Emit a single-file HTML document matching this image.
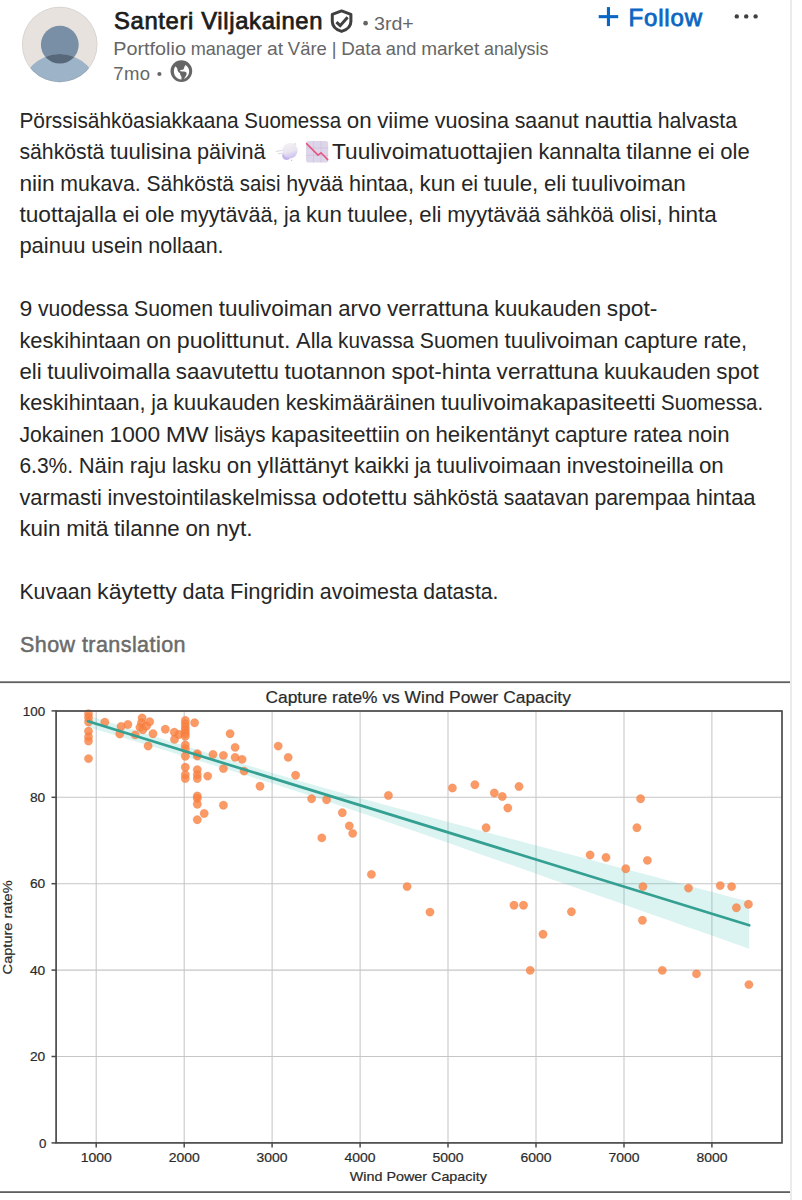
<!DOCTYPE html>
<html><head><meta charset="utf-8"><style>
html,body{margin:0;padding:0;background:#fff;}
body{width:802px;height:1200px;overflow:hidden;position:relative;font-family:"Liberation Sans",sans-serif;}
.vl{position:absolute;left:790px;top:0;width:2px;height:1200px;background:#ebebeb;}
</style></head><body>
<div class="vl"></div>
<svg width="802" height="680" viewBox="0 0 802 680" style="position:absolute;left:0;top:0" font-family="Liberation Sans, sans-serif">
<defs>
<clipPath id="avc"><circle cx="59.7" cy="44.5" r="37.7"/></clipPath>
<clipPath id="bodyc"><circle cx="59.7" cy="92.6" r="38.6"/></clipPath>
<linearGradient id="cloudg" x1="0.2" y1="0" x2="0.5" y2="1"><stop offset="0" stop-color="#f4f2f5"/><stop offset="0.6" stop-color="#e9e4ef"/><stop offset="1" stop-color="#cdbff0"/></linearGradient>
</defs>
<circle cx="59.7" cy="44.5" r="37.7" fill="#e7e2dd"/>
<g clip-path="url(#avc)">
<circle cx="59.8" cy="44.7" r="18.9" fill="#788fa5"/>
<circle cx="59.7" cy="92.6" r="38.6" fill="#9db3c8"/>
<circle cx="59.8" cy="44.7" r="18.9" fill="#56687a" clip-path="url(#bodyc)"/>
</g>
<circle cx="59.7" cy="44.5" r="37.4" fill="none" stroke="#000" stroke-opacity="0.07" stroke-width="1"/>
<text x="114" y="28.9" font-size="23.8" fill="#1c1c1c" stroke="#1c1c1c" stroke-width="0.75" textLength="208.5" lengthAdjust="spacing">Santeri Viljakainen</text>
<path d="M341.6,10.9 L332.3,14.3 L332.3,21.6 C332.3,26.4 336.3,29.9 341.6,31.4 C346.9,29.9 350.9,26.4 350.9,21.6 L350.9,14.3 Z" fill="none" stroke="#404040" stroke-width="3" stroke-linejoin="round"/>
<path d="M336.4,22.1 L340.2,25.7 L347.6,17.3" fill="none" stroke="#404040" stroke-width="3"/>
<circle cx="365.6" cy="23.2" r="2.35" fill="#666"/>
<text x="374" y="29.6" font-size="19" fill="#666" textLength="39.8" lengthAdjust="spacingAndGlyphs">3rd+</text>
<!--SUB-->
<text x="113.3" y="79.9" font-size="18.5" fill="#666" textLength="36.8" lengthAdjust="spacing">7mo</text>
<circle cx="159.4" cy="74" r="2.1" fill="#666"/>
<g transform="translate(166,56) scale(0.0399)">
<circle cx="385" cy="378" r="272" fill="#666"/>
<path d="M232,262 C195,310 185,420 225,492 C262,550 325,582 388,588 L388,522 C372,502 358,482 356,458 C354,432 344,418 318,405 C294,392 288,362 284,322 C276,292 258,272 232,262 Z" fill="#fff"/>
<path d="M492,226 C545,262 580,322 582,382 C584,462 534,540 452,575 C468,532 498,502 514,462 C524,432 510,402 484,392 L442,387 C420,384 372,387 358,384 L358,352 C390,348 430,350 444,334 C450,300 460,258 492,226 Z" fill="#fff"/>
</g>
<g fill="#0a66c2">
<rect x="598.7" y="15.1" width="19.5" height="3.1"/>
<rect x="606.9" y="7.1" width="3.1" height="19"/>
</g>
<text x="628.5" y="25.6" font-size="24" fill="#0a66c2" stroke="#0a66c2" stroke-width="0.8" textLength="73.5" lengthAdjust="spacing">Follow</text>
<g fill="#404040"><circle cx="736.8" cy="16.4" r="2.2"/><circle cx="746.2" cy="16.4" r="2.2"/><circle cx="755.6" cy="16.4" r="2.2"/></g>

<g font-size="18.2" fill="#666"><text x="113.30" y="54.90" textLength="72.60" lengthAdjust="spacingAndGlyphs">Portfolio</text><text x="190.72" y="54.90" textLength="71.39" lengthAdjust="spacingAndGlyphs">manager</text><text x="266.94" y="54.90" textLength="16.13" lengthAdjust="spacingAndGlyphs">at</text><text x="287.89" y="54.90" textLength="38.95" lengthAdjust="spacingAndGlyphs">Väre</text><text x="331.67" y="54.90" textLength="4.72" lengthAdjust="spacingAndGlyphs">|</text><text x="341.22" y="54.90" textLength="39.84" lengthAdjust="spacingAndGlyphs">Data</text><text x="385.89" y="54.90" textLength="30.45" lengthAdjust="spacingAndGlyphs">and</text><text x="421.16" y="54.90" textLength="58.03" lengthAdjust="spacingAndGlyphs">market</text><text x="484.02" y="54.90" textLength="64.28" lengthAdjust="spacingAndGlyphs">analysis</text></g>
<g font-size="22" fill="#262626">
<text x="19.40" y="127.75" textLength="219.31" lengthAdjust="spacingAndGlyphs">Pörssisähköasiakkaana</text><text x="244.36" y="127.75" textLength="96.72" lengthAdjust="spacingAndGlyphs">Suomessa</text><text x="346.73" y="127.75" textLength="24.84" lengthAdjust="spacingAndGlyphs">on</text><text x="377.22" y="127.75" textLength="51.81" lengthAdjust="spacingAndGlyphs">viime</text><text x="434.69" y="127.75" textLength="74.38" lengthAdjust="spacingAndGlyphs">vuosina</text><text x="514.71" y="127.75" textLength="64.05" lengthAdjust="spacingAndGlyphs">saanut</text><text x="584.42" y="127.75" textLength="67.71" lengthAdjust="spacingAndGlyphs">nauttia</text><text x="657.78" y="127.75" textLength="79.32" lengthAdjust="spacingAndGlyphs">halvasta</text>
<text x="19.40" y="159.15" textLength="85.01" lengthAdjust="spacingAndGlyphs">sähköstä</text><text x="110.06" y="159.15" textLength="81.17" lengthAdjust="spacingAndGlyphs">tuulisina</text><text x="196.89" y="159.15" textLength="68.61" lengthAdjust="spacingAndGlyphs">päivinä</text>
<text x="332.00" y="159.15" textLength="200.88" lengthAdjust="spacingAndGlyphs">Tuulivoimatuottajien</text><text x="538.54" y="159.15" textLength="82.00" lengthAdjust="spacingAndGlyphs">kannalta</text><text x="626.20" y="159.15" textLength="65.78" lengthAdjust="spacingAndGlyphs">tilanne</text><text x="697.64" y="159.15" textLength="16.98" lengthAdjust="spacingAndGlyphs">ei</text><text x="720.28" y="159.15" textLength="29.42" lengthAdjust="spacingAndGlyphs">ole</text>
</g><g>
<path d="M276.5,151.3 L283.5,150.2 M278.5,153.6 L284.5,153" stroke="#e2dce9" stroke-width="1.2" stroke-linecap="round"/>
<circle cx="286.6" cy="155.6" r="4.4" fill="#c4b4ee"/>
<circle cx="290" cy="150.6" r="7.7" fill="url(#cloudg)"/>
<circle cx="294.8" cy="144.2" r="1.5" fill="#e9e6ec"/>
<circle cx="291.6" cy="160.2" r="0.7" fill="#c8b8f0"/>
</g>
<g>
<rect x="306" y="140.9" width="22.2" height="21.6" rx="2.6" fill="#ddd5e9"/>
<path d="M313.5,141 V162.5 M321,141 V162.5 M306,148 H328.2 M306,155.4 H328.2" stroke="#cbc0dc" stroke-width="0.6"/>
<path d="M306.6,143.6 L318,155.1 L321,152.8 L327.7,159.6" fill="none" stroke="#e8507e" stroke-width="1.5" stroke-linecap="round" stroke-linejoin="round"/>
</g><g font-size="22" fill="#262626">
<text x="19.40" y="190.55" textLength="35.31" lengthAdjust="spacingAndGlyphs">niin</text><text x="60.37" y="190.55" textLength="80.39" lengthAdjust="spacingAndGlyphs">mukava.</text><text x="146.43" y="190.55" textLength="87.63" lengthAdjust="spacingAndGlyphs">Sähköstä</text><text x="239.72" y="190.55" textLength="40.77" lengthAdjust="spacingAndGlyphs">saisi</text><text x="286.15" y="190.55" textLength="57.15" lengthAdjust="spacingAndGlyphs">hyvää</text><text x="348.97" y="190.55" textLength="64.94" lengthAdjust="spacingAndGlyphs">hintaa,</text><text x="419.58" y="190.55" textLength="35.92" lengthAdjust="spacingAndGlyphs">kun</text><text x="461.16" y="190.55" textLength="16.99" lengthAdjust="spacingAndGlyphs">ei</text><text x="483.81" y="190.55" textLength="54.52" lengthAdjust="spacingAndGlyphs">tuule,</text><text x="543.99" y="190.55" textLength="22.21" lengthAdjust="spacingAndGlyphs">eli</text><text x="571.87" y="190.55" textLength="113.93" lengthAdjust="spacingAndGlyphs">tuulivoiman</text>
<text x="19.40" y="221.95" textLength="97.33" lengthAdjust="spacingAndGlyphs">tuottajalla</text><text x="122.39" y="221.95" textLength="16.98" lengthAdjust="spacingAndGlyphs">ei</text><text x="145.02" y="221.95" textLength="29.42" lengthAdjust="spacingAndGlyphs">ole</text><text x="180.10" y="221.95" textLength="98.28" lengthAdjust="spacingAndGlyphs">myytävää,</text><text x="284.04" y="221.95" textLength="16.29" lengthAdjust="spacingAndGlyphs">ja</text><text x="305.99" y="221.95" textLength="35.89" lengthAdjust="spacingAndGlyphs">kun</text><text x="347.53" y="221.95" textLength="66.15" lengthAdjust="spacingAndGlyphs">tuulee,</text><text x="419.34" y="221.95" textLength="22.19" lengthAdjust="spacingAndGlyphs">eli</text><text x="447.19" y="221.95" textLength="93.26" lengthAdjust="spacingAndGlyphs">myytävää</text><text x="546.11" y="221.95" textLength="67.64" lengthAdjust="spacingAndGlyphs">sähköä</text><text x="619.41" y="221.95" textLength="42.95" lengthAdjust="spacingAndGlyphs">olisi,</text><text x="668.02" y="221.95" textLength="48.88" lengthAdjust="spacingAndGlyphs">hinta</text>
<text x="19.40" y="253.35" textLength="66.05" lengthAdjust="spacingAndGlyphs">painuu</text><text x="91.14" y="253.35" textLength="51.51" lengthAdjust="spacingAndGlyphs">usein</text><text x="148.34" y="253.35" textLength="75.26" lengthAdjust="spacingAndGlyphs">nollaan.</text>
<text x="19.40" y="316.15" textLength="12.82" lengthAdjust="spacingAndGlyphs">9</text><text x="37.89" y="316.15" textLength="90.47" lengthAdjust="spacingAndGlyphs">vuodessa</text><text x="134.02" y="316.15" textLength="79.06" lengthAdjust="spacingAndGlyphs">Suomen</text><text x="218.74" y="316.15" textLength="113.88" lengthAdjust="spacingAndGlyphs">tuulivoiman</text><text x="338.27" y="316.15" textLength="42.99" lengthAdjust="spacingAndGlyphs">arvo</text><text x="386.92" y="316.15" textLength="101.68" lengthAdjust="spacingAndGlyphs">verrattuna</text><text x="494.26" y="316.15" textLength="106.83" lengthAdjust="spacingAndGlyphs">kuukauden</text><text x="606.75" y="316.15" textLength="50.65" lengthAdjust="spacingAndGlyphs">spot-</text>
<text x="19.40" y="347.55" textLength="121.17" lengthAdjust="spacingAndGlyphs">keskihintaan</text><text x="146.22" y="347.55" textLength="24.86" lengthAdjust="spacingAndGlyphs">on</text><text x="176.74" y="347.55" textLength="113.70" lengthAdjust="spacingAndGlyphs">puolittunut.</text><text x="296.10" y="347.55" textLength="36.37" lengthAdjust="spacingAndGlyphs">Alla</text><text x="338.12" y="347.55" textLength="76.05" lengthAdjust="spacingAndGlyphs">kuvassa</text><text x="419.83" y="347.55" textLength="79.01" lengthAdjust="spacingAndGlyphs">Suomen</text><text x="504.49" y="347.55" textLength="113.80" lengthAdjust="spacingAndGlyphs">tuulivoiman</text><text x="623.94" y="347.55" textLength="73.87" lengthAdjust="spacingAndGlyphs">capture</text><text x="703.47" y="347.55" textLength="43.63" lengthAdjust="spacingAndGlyphs">rate,</text>
<text x="19.40" y="378.95" textLength="22.19" lengthAdjust="spacingAndGlyphs">eli</text><text x="47.25" y="378.95" textLength="122.93" lengthAdjust="spacingAndGlyphs">tuulivoimalla</text><text x="175.84" y="378.95" textLength="103.04" lengthAdjust="spacingAndGlyphs">saavutettu</text><text x="284.54" y="378.95" textLength="101.23" lengthAdjust="spacingAndGlyphs">tuotannon</text><text x="391.43" y="378.95" textLength="99.52" lengthAdjust="spacingAndGlyphs">spot-hinta</text><text x="496.61" y="378.95" textLength="101.65" lengthAdjust="spacingAndGlyphs">verrattuna</text><text x="603.92" y="378.95" textLength="106.80" lengthAdjust="spacingAndGlyphs">kuukauden</text><text x="716.38" y="378.95" textLength="42.42" lengthAdjust="spacingAndGlyphs">spot</text>
<text x="19.40" y="410.35" textLength="126.20" lengthAdjust="spacingAndGlyphs">keskihintaan,</text><text x="151.25" y="410.35" textLength="16.29" lengthAdjust="spacingAndGlyphs">ja</text><text x="173.20" y="410.35" textLength="106.77" lengthAdjust="spacingAndGlyphs">kuukauden</text><text x="285.63" y="410.35" textLength="149.80" lengthAdjust="spacingAndGlyphs">keskimääräinen</text><text x="441.08" y="410.35" textLength="214.34" lengthAdjust="spacingAndGlyphs">tuulivoimakapasiteetti</text><text x="661.08" y="410.35" textLength="102.02" lengthAdjust="spacingAndGlyphs">Suomessa.</text>
<text x="19.40" y="441.75" textLength="84.57" lengthAdjust="spacingAndGlyphs">Jokainen</text><text x="109.56" y="441.75" textLength="50.59" lengthAdjust="spacingAndGlyphs">1000</text><text x="165.73" y="441.75" textLength="42.83" lengthAdjust="spacingAndGlyphs">MW</text><text x="214.14" y="441.75" textLength="51.34" lengthAdjust="spacingAndGlyphs">lisäys</text><text x="271.06" y="441.75" textLength="128.76" lengthAdjust="spacingAndGlyphs">kapasiteettiin</text><text x="405.41" y="441.75" textLength="24.53" lengthAdjust="spacingAndGlyphs">on</text><text x="435.52" y="441.75" textLength="113.55" lengthAdjust="spacingAndGlyphs">heikentänyt</text><text x="554.66" y="441.75" textLength="72.90" lengthAdjust="spacingAndGlyphs">capture</text><text x="633.14" y="441.75" textLength="48.94" lengthAdjust="spacingAndGlyphs">ratea</text><text x="687.67" y="441.75" textLength="41.93" lengthAdjust="spacingAndGlyphs">noin</text>
<text x="19.40" y="473.15" textLength="53.66" lengthAdjust="spacingAndGlyphs">6.3%.</text><text x="78.70" y="473.15" textLength="45.39" lengthAdjust="spacingAndGlyphs">Näin</text><text x="129.73" y="473.15" textLength="36.57" lengthAdjust="spacingAndGlyphs">raju</text><text x="171.94" y="473.15" textLength="49.20" lengthAdjust="spacingAndGlyphs">lasku</text><text x="226.79" y="473.15" textLength="24.80" lengthAdjust="spacingAndGlyphs">on</text><text x="257.24" y="473.15" textLength="91.07" lengthAdjust="spacingAndGlyphs">yllättänyt</text><text x="353.96" y="473.15" textLength="55.14" lengthAdjust="spacingAndGlyphs">kaikki</text><text x="414.74" y="473.15" textLength="16.25" lengthAdjust="spacingAndGlyphs">ja</text><text x="436.64" y="473.15" textLength="124.51" lengthAdjust="spacingAndGlyphs">tuulivoimaan</text><text x="566.79" y="473.15" textLength="126.46" lengthAdjust="spacingAndGlyphs">investoineilla</text><text x="698.90" y="473.15" textLength="24.80" lengthAdjust="spacingAndGlyphs">on</text>
<text x="19.40" y="504.55" textLength="82.37" lengthAdjust="spacingAndGlyphs">varmasti</text><text x="107.43" y="504.55" textLength="209.03" lengthAdjust="spacingAndGlyphs">investointilaskelmissa</text><text x="322.11" y="504.55" textLength="85.18" lengthAdjust="spacingAndGlyphs">odotettu</text><text x="412.95" y="504.55" textLength="85.10" lengthAdjust="spacingAndGlyphs">sähköstä</text><text x="503.70" y="504.55" textLength="85.14" lengthAdjust="spacingAndGlyphs">saatavan</text><text x="594.50" y="504.55" textLength="95.59" lengthAdjust="spacingAndGlyphs">parempaa</text><text x="695.76" y="504.55" textLength="59.84" lengthAdjust="spacingAndGlyphs">hintaa</text>
<text x="19.40" y="535.95" textLength="41.12" lengthAdjust="spacingAndGlyphs">kuin</text><text x="66.16" y="535.95" textLength="42.32" lengthAdjust="spacingAndGlyphs">mitä</text><text x="114.13" y="535.95" textLength="65.65" lengthAdjust="spacingAndGlyphs">tilanne</text><text x="185.43" y="535.95" textLength="24.82" lengthAdjust="spacingAndGlyphs">on</text><text x="215.90" y="535.95" textLength="36.80" lengthAdjust="spacingAndGlyphs">nyt.</text>
<text x="19.40" y="598.75" textLength="72.06" lengthAdjust="spacingAndGlyphs">Kuvaan</text><text x="97.07" y="598.75" textLength="79.76" lengthAdjust="spacingAndGlyphs">käytetty</text><text x="182.44" y="598.75" textLength="41.91" lengthAdjust="spacingAndGlyphs">data</text><text x="229.96" y="598.75" textLength="84.28" lengthAdjust="spacingAndGlyphs">Fingridin</text><text x="319.85" y="598.75" textLength="97.72" lengthAdjust="spacingAndGlyphs">avoimesta</text><text x="423.18" y="598.75" textLength="75.32" lengthAdjust="spacingAndGlyphs">datasta.</text>
</g>
<text x="20" y="652.4" font-size="21.5" fill="#6b6b6b" stroke="#6b6b6b" stroke-width="0.5" textLength="165.5" lengthAdjust="spacing">Show translation</text>
</svg>
<svg width="802" height="1200" viewBox="0 0 802 1200" style="position:absolute;left:0;top:0"><rect x="0" y="681.3" width="790" height="1.8" fill="#606060" /><rect x="0" y="1191.2" width="790" height="1.8" fill="#606060" /><g stroke="#c6c6c6" stroke-width="1.05"><line x1="96.2" y1="711" x2="96.2" y2="1143" /><line x1="184.2" y1="711" x2="184.2" y2="1143" /><line x1="272.1" y1="711" x2="272.1" y2="1143" /><line x1="360.1" y1="711" x2="360.1" y2="1143" /><line x1="448.0" y1="711" x2="448.0" y2="1143" /><line x1="536.0" y1="711" x2="536.0" y2="1143" /><line x1="624.0" y1="711" x2="624.0" y2="1143" /><line x1="711.9" y1="711" x2="711.9" y2="1143" /><line x1="56.3" y1="1056.5" x2="782" y2="1056.5" /><line x1="56.3" y1="970.1" x2="782" y2="970.1" /><line x1="56.3" y1="883.7" x2="782" y2="883.7" /><line x1="56.3" y1="797.3" x2="782" y2="797.3" /><line x1="56.3" y1="710.9" x2="782" y2="710.9" /></g><polygon fill="#4cc2bb" fill-opacity="0.2" points="88.0,715.4 104.5,720.7 121.1,725.9 137.6,731.1 154.1,736.3 170.7,741.5 187.2,746.6 203.7,751.8 220.2,756.9 236.8,762.0 253.3,767.1 269.8,772.2 286.4,777.1 302.9,781.9 319.4,786.6 335.9,791.3 352.5,795.9 369.0,800.5 385.5,805.0 402.1,809.5 418.6,814.0 435.1,818.5 451.7,822.9 468.2,827.3 484.7,831.7 501.2,836.2 517.8,840.6 534.3,845.0 550.8,849.3 567.4,853.7 583.9,858.1 600.4,862.5 617.0,866.9 633.5,871.2 650.0,875.6 666.5,880.0 683.1,884.3 699.6,888.7 716.1,893.1 732.7,897.4 749.2,901.8 749.2,948.8 732.7,943.0 716.1,937.1 699.6,931.3 683.1,925.5 666.5,919.6 650.0,913.8 633.5,908.0 617.0,902.1 600.4,896.3 583.9,890.5 567.4,884.7 550.8,878.9 534.3,873.0 517.8,867.2 501.2,861.4 484.7,855.7 468.2,849.9 451.7,844.1 435.1,838.3 418.6,832.6 402.1,826.9 385.5,821.2 369.0,815.5 352.5,809.9 335.9,804.3 319.4,798.8 302.9,793.3 286.4,787.9 269.8,782.6 253.3,777.5 236.8,772.4 220.2,767.3 203.7,762.2 187.2,757.2 170.7,752.1 154.1,747.1 137.6,742.1 121.1,737.1 104.5,732.1 88.0,727.2" /><g fill="#fb8140" fill-opacity="0.8" stroke="#c86a3c" stroke-opacity="0.25" stroke-width="0.7"><circle cx="88.5" cy="713.7" r="4.2" /><circle cx="88.5" cy="717.5" r="4.2" /><circle cx="88.5" cy="722" r="4.2" /><circle cx="88.5" cy="731.2" r="4.2" /><circle cx="88.5" cy="736.9" r="4.2" /><circle cx="88.5" cy="741.1" r="4.2" /><circle cx="88.5" cy="758.6" r="4.2" /><circle cx="104.8" cy="722.2" r="4.2" /><circle cx="119.8" cy="734" r="4.2" /><circle cx="121.1" cy="726.5" r="4.2" /><circle cx="127.9" cy="724.5" r="4.2" /><circle cx="135.2" cy="734.9" r="4.2" /><circle cx="142.1" cy="718" r="4.2" /><circle cx="141.4" cy="723" r="4.2" /><circle cx="139.9" cy="727.4" r="4.2" /><circle cx="142.9" cy="729.7" r="4.2" /><circle cx="146.6" cy="726" r="4.2" /><circle cx="149.7" cy="721.7" r="4.2" /><circle cx="153" cy="733.7" r="4.2" /><circle cx="148.1" cy="746" r="4.2" /><circle cx="165.3" cy="729.2" r="4.2" /><circle cx="174.3" cy="732.2" r="4.2" /><circle cx="174.5" cy="739.4" r="4.2" /><circle cx="179.2" cy="734.5" r="4.2" /><circle cx="185.3" cy="720.5" r="4.2" /><circle cx="185.3" cy="724" r="4.2" /><circle cx="185.3" cy="727.5" r="4.2" /><circle cx="185.3" cy="730.5" r="4.2" /><circle cx="185.3" cy="733.5" r="4.2" /><circle cx="185.3" cy="736.3" r="4.2" /><circle cx="185.3" cy="745" r="4.2" /><circle cx="185.3" cy="749" r="4.2" /><circle cx="185.3" cy="756.3" r="4.2" /><circle cx="185.3" cy="767.3" r="4.2" /><circle cx="185.3" cy="774.8" r="4.2" /><circle cx="185.3" cy="778.6" r="4.2" /><circle cx="194.6" cy="722.8" r="4.2" /><circle cx="197.3" cy="753.8" r="4.2" /><circle cx="197.3" cy="756" r="4.2" /><circle cx="197.3" cy="769.8" r="4.2" /><circle cx="197.3" cy="774.8" r="4.2" /><circle cx="197.3" cy="778.6" r="4.2" /><circle cx="197.3" cy="796" r="4.2" /><circle cx="197.3" cy="798.5" r="4.2" /><circle cx="197.3" cy="804.2" r="4.2" /><circle cx="197.3" cy="819.7" r="4.2" /><circle cx="204.2" cy="813.5" r="4.2" /><circle cx="207.7" cy="776.1" r="4.2" /><circle cx="213" cy="754.4" r="4.2" /><circle cx="223.4" cy="755.4" r="4.2" /><circle cx="223.4" cy="768.6" r="4.2" /><circle cx="223.4" cy="805.2" r="4.2" /><circle cx="230.1" cy="733.7" r="4.2" /><circle cx="235.1" cy="747.4" r="4.2" /><circle cx="235.1" cy="757.4" r="4.2" /><circle cx="242.1" cy="759.4" r="4.2" /><circle cx="244.1" cy="771.1" r="4.2" /><circle cx="260" cy="786.3" r="4.2" /><circle cx="278.2" cy="746.1" r="4.2" /><circle cx="288.2" cy="757.4" r="4.2" /><circle cx="295.6" cy="775.3" r="4.2" /><circle cx="311.6" cy="798.8" r="4.2" /><circle cx="326.6" cy="799.8" r="4.2" /><circle cx="342.3" cy="812.7" r="4.2" /><circle cx="349.3" cy="825.9" r="4.2" /><circle cx="352.7" cy="833.4" r="4.2" /><circle cx="321.8" cy="837.9" r="4.2" /><circle cx="388.4" cy="795.5" r="4.2" /><circle cx="371.4" cy="874.4" r="4.2" /><circle cx="407.1" cy="886.6" r="4.2" /><circle cx="430" cy="912.1" r="4.2" /><circle cx="452.4" cy="788" r="4.2" /><circle cx="474.9" cy="784.8" r="4.2" /><circle cx="494.3" cy="793" r="4.2" /><circle cx="502.3" cy="796.5" r="4.2" /><circle cx="519" cy="786.5" r="4.2" /><circle cx="507.8" cy="808" r="4.2" /><circle cx="486.1" cy="827.7" r="4.2" /><circle cx="514" cy="905.3" r="4.2" /><circle cx="523.5" cy="905.3" r="4.2" /><circle cx="530.2" cy="970.4" r="4.2" /><circle cx="543" cy="934.3" r="4.2" /><circle cx="571.4" cy="911.8" r="4.2" /><circle cx="590.1" cy="855" r="4.2" /><circle cx="606" cy="857.5" r="4.2" /><circle cx="625.8" cy="868.7" r="4.2" /><circle cx="640.6" cy="798.8" r="4.2" /><circle cx="636.9" cy="827.7" r="4.2" /><circle cx="647.4" cy="860.4" r="4.2" /><circle cx="642.9" cy="886.6" r="4.2" /><circle cx="642.4" cy="920.3" r="4.2" /><circle cx="688.5" cy="888.1" r="4.2" /><circle cx="720.2" cy="885.6" r="4.2" /><circle cx="731.6" cy="886.6" r="4.2" /><circle cx="736.4" cy="907.8" r="4.2" /><circle cx="748.4" cy="904.3" r="4.2" /><circle cx="662.3" cy="970.4" r="4.2" /><circle cx="696.5" cy="973.9" r="4.2" /><circle cx="748.9" cy="984.6" r="4.2" /></g><line x1="88.0" y1="721.3" x2="749.2" y2="925.3" stroke="#34a092" stroke-width="2.7" stroke-linecap="round" /><rect x="56.1" y="711" width="725.9" height="431.9" fill="none" stroke="#4a4a4a" stroke-width="1.7" /><g stroke="#4a4a4a" stroke-width="1.5"><line x1="96.2" y1="1143" x2="96.2" y2="1147.5" /><line x1="184.2" y1="1143" x2="184.2" y2="1147.5" /><line x1="272.1" y1="1143" x2="272.1" y2="1147.5" /><line x1="360.1" y1="1143" x2="360.1" y2="1147.5" /><line x1="448.0" y1="1143" x2="448.0" y2="1147.5" /><line x1="536.0" y1="1143" x2="536.0" y2="1147.5" /><line x1="624.0" y1="1143" x2="624.0" y2="1147.5" /><line x1="711.9" y1="1143" x2="711.9" y2="1147.5" /><line x1="51.5" y1="1142.9" x2="56.3" y2="1142.9" /><line x1="51.5" y1="1056.5" x2="56.3" y2="1056.5" /><line x1="51.5" y1="970.1" x2="56.3" y2="970.1" /><line x1="51.5" y1="883.7" x2="56.3" y2="883.7" /><line x1="51.5" y1="797.3" x2="56.3" y2="797.3" /><line x1="51.5" y1="710.9" x2="56.3" y2="710.9" /></g><g font-family="Liberation Sans, sans-serif" font-size="13.2" fill="#2a2a2a" stroke="#2a2a2a" stroke-width="0.2"><text x="96.2" y="1162.2" text-anchor="middle" textLength="31" lengthAdjust="spacingAndGlyphs">1000</text><text x="184.2" y="1162.2" text-anchor="middle" textLength="31" lengthAdjust="spacingAndGlyphs">2000</text><text x="272.1" y="1162.2" text-anchor="middle" textLength="31" lengthAdjust="spacingAndGlyphs">3000</text><text x="360.1" y="1162.2" text-anchor="middle" textLength="31" lengthAdjust="spacingAndGlyphs">4000</text><text x="448.0" y="1162.2" text-anchor="middle" textLength="31" lengthAdjust="spacingAndGlyphs">5000</text><text x="536.0" y="1162.2" text-anchor="middle" textLength="31" lengthAdjust="spacingAndGlyphs">6000</text><text x="624.0" y="1162.2" text-anchor="middle" textLength="31" lengthAdjust="spacingAndGlyphs">7000</text><text x="711.9" y="1162.2" text-anchor="middle" textLength="31" lengthAdjust="spacingAndGlyphs">8000</text><text x="39.1" y="1147.6" textLength="7.4" lengthAdjust="spacingAndGlyphs">0</text><text x="29.9" y="1061.2" textLength="15.3" lengthAdjust="spacingAndGlyphs">20</text><text x="29.9" y="974.8" textLength="15.3" lengthAdjust="spacingAndGlyphs">40</text><text x="29.9" y="888.4" textLength="15.3" lengthAdjust="spacingAndGlyphs">60</text><text x="29.9" y="802.0" textLength="15.3" lengthAdjust="spacingAndGlyphs">80</text><text x="22.8" y="715.6" textLength="22.4" lengthAdjust="spacingAndGlyphs">100</text><text x="349.8" y="1180.7" textLength="137" lengthAdjust="spacingAndGlyphs">Wind Power Capacity</text><text transform="translate(11.6,974.4) rotate(-90)" textLength="94" lengthAdjust="spacingAndGlyphs">Capture rate%</text><text x="265.4" y="702.9" font-size="16.2" textLength="305.5" lengthAdjust="spacingAndGlyphs">Capture rate% vs Wind Power Capacity</text></g></svg>
</body></html>
